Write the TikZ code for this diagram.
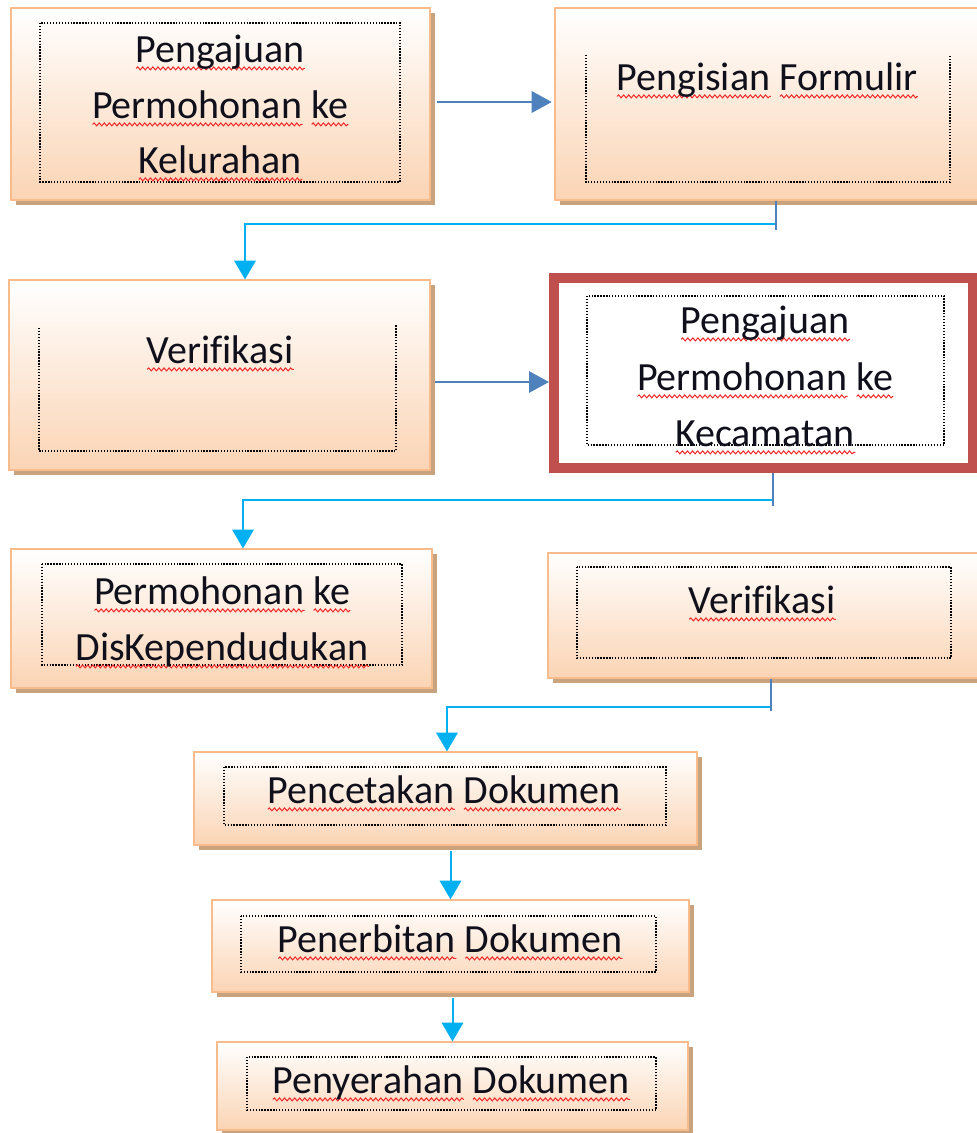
\documentclass[tikz,border=0pt]{standalone}
\usepackage{fontspec}
\setmainfont{Carlito}[Ligatures=NoCommon]
\usetikzlibrary{arrows.meta,shadows,decorations.pathmorphing}
\definecolor{peach}{HTML}{FBD4B4}
\definecolor{peachline}{HTML}{F8BC8C}
\definecolor{shadowc}{HTML}{C9A27E}
\definecolor{steel}{HTML}{4F81BD}
\definecolor{cyanc}{HTML}{00B0F0}
\definecolor{redc}{HTML}{C0504D}
\definecolor{squigc}{HTML}{F02828}
\definecolor{inkc}{HTML}{10101C}
\newlength{\wvlen}
\newcommand\rw[1]{\settowidth{\wvlen}{#1}\rlap{\tikz[baseline=0pt]\draw[draw=squigc, line width=0.75pt, decorate, decoration={snake, amplitude=1.1pt, segment length=3.8pt}] (0pt,-4.8pt) -- (\wvlen,-4.8pt);}#1}
\newcommand{\pxu}{0.75pt}
\begin{document}
\begin{tikzpicture}[x=0.75pt,y=-0.75pt,
  box/.style={draw=peachline, line width=0.9pt, rectangle, inner sep=0pt,
    top color=white, bottom color=peach,
    general shadow={fill=shadowc, shadow xshift=3.5pt, shadow yshift=-4pt}},
  redbox/.style={draw=redc, line width=7.5pt, fill=white, rectangle, inner sep=0pt},
  txt/.style={font=\fontsize{30}{36}\selectfont, anchor=base, inner sep=0pt, text=inkc},
  dotbox/.style={draw=black, line width=1pt, dash pattern=on 1pt off 1.2pt},
  bluearrow/.style={draw=steel, line width=1.6pt, -{Triangle[length=15pt,width=16pt]}},
  cyanarrow/.style={draw=cyanc, line width=1.5pt, -{Triangle[length=14pt,width=16pt]}},
  stub/.style={draw=steel, line width=1.2pt}]
\useasboundingbox (0,0) rectangle (977,1133);
\clip (0,0) rectangle (977,1133);
\fill[white] (0,0) rectangle (977,1133);

% boxes
\node[box, minimum width=419*\pxu, minimum height=192*\pxu] (b1) at (220.5,104) {};
\node[box, minimum width=430*\pxu, minimum height=192*\pxu] (b2) at (770,104) {};
\node[box, minimum width=421*\pxu, minimum height=190*\pxu] (b3) at (219.5,375) {};
\node[redbox, minimum width=419*\pxu, minimum height=190*\pxu] (b4) at (763.5,373) {};
\node[box, minimum width=421*\pxu, minimum height=139*\pxu] (b5) at (221.5,618.5) {};
\node[box, minimum width=437*\pxu, minimum height=125*\pxu] (b6) at (766.5,615.5) {};
\node[box, minimum width=503*\pxu, minimum height=93*\pxu] (b7) at (445.5,798.5) {};
\node[box, minimum width=477*\pxu, minimum height=92*\pxu] (b8) at (450.5,946) {};
\node[box, minimum width=471*\pxu, minimum height=88*\pxu] (b9) at (452.5,1086) {};

% inner dotted frames
\draw[dotbox] (40,23) rectangle (400,182);
\draw[dotbox] (586,55) -- (586,182) -- (950,182) -- (950,55);
\draw[dotbox] (39,328) -- (39,451) -- (396,451) -- (396,325);
\draw[dotbox] (587,296) rectangle (944,445);
\draw[dotbox] (42,564) rectangle (402,665);
\draw[dotbox] (577,567) rectangle (951,658);
\draw[dotbox] (224,767) rectangle (666,825);
\draw[dotbox] (241,916) rectangle (656,972);
\draw[dotbox] (247,1057) rectangle (656,1110);

% texts
\node[txt] (t1a) at (220,62) {\rw{Pengajuan}};
\node[txt] (t1b) at (220,118) {\rw{Permohonan}\ \rw{ke}};
\node[txt] (t1c) at (220,173) {\rw{Kelurahan}};
\node[txt] (t2) at (767,90) {\rw{Pengisian} \rw{Formulir}};
\node[txt] (t3) at (220,363) {\rw{Verifikasi}};
\node[txt] (t4a) at (765,333) {\rw{Pengajuan}};
\node[txt] (t4b) at (765,390) {\rw{Permohonan}\ \rw{ke}};
\node[txt] (t4c) at (765,446) {\rw{Kecamatan}};
\node[txt] (t5a) at (222,604) {\rw{Permohonan}\ \rw{ke}};
\node[txt] (t5b) at (222,660) {\rw{DisKependudukan}};
\node[txt] (t6) at (762,613) {\rw{Verifikasi}};
\node[txt] (t7) at (444,803) {\rw{Pencetakan} \rw{Dokumen}};
\node[txt] (t8) at (450,952) {\rw{Penerbitan} \rw{Dokumen}};
\node[txt] (t9) at (451,1093) {\rw{Penyerahan} \rw{Dokumen}};

% straight blue arrows
\coordinate (a1s) at ([xshift=4.5pt,yshift=1.5pt]b1.east);
\draw[bluearrow] (a1s) -- ([xshift=-2pt]a1s -| b2.west);
\coordinate (a2s) at ([xshift=3.5pt,yshift=-5.25pt]b3.east);
\draw[bluearrow] (a2s) -- (a2s -| b4.west);

% elbow connectors
\coordinate (k1) at (776,224);
\coordinate (k1x) at (245,224);
\draw[cyanarrow] (k1) -- (k1x) -- (k1x |- b3.north);
\draw[stub] (b2.south -| k1) -- ([yshift=-4.5pt]k1);

\coordinate (k2) at (773,500);
\coordinate (k2x) at (243,500);
\draw[cyanarrow] (k2) -- (k2x) -- (k2x |- b5.north);
\draw[stub] (b4.south -| k2) -- ([yshift=-4.5pt]k2);

\coordinate (k3) at (771,707);
\coordinate (k3x) at (447,707);
\draw[cyanarrow] (k3) -- (k3x) -- (k3x |- b7.north);
\draw[stub] (b6.south -| k3) -- ([yshift=-3pt]k3);

% vertical arrows
\draw[cyanarrow] ([yshift=-4pt]b7.south -| b8.north) -- (b8.north);
\draw[cyanarrow] ([yshift=-4pt]b8.south -| b9.north) -- (b9.north);
\end{tikzpicture}
\end{document}
